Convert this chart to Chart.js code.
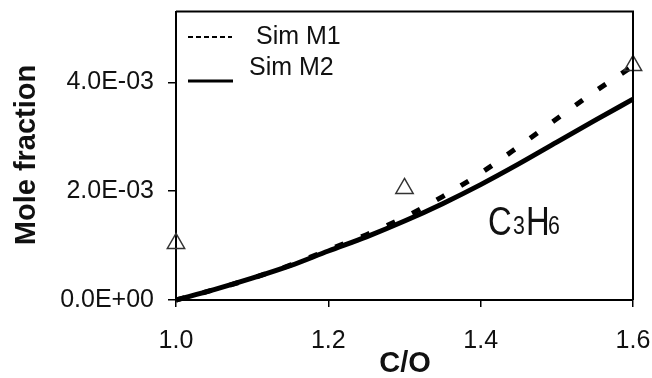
<!DOCTYPE html>
<html>
<head>
<meta charset="utf-8">
<script src="https://cdn.jsdelivr.net/npm/chart.js@4.4.1/dist/chart.umd.min.js"></script>
<style>
  html, body { margin: 0; padding: 0; background: #fff; }
  canvas { display: block; }
</style>
</head>
<body>
<canvas id="chart" width="652" height="378"></canvas>
<script>
const coRatio = [1.0, 1.05, 1.1, 1.15, 1.2, 1.25, 1.3, 1.35, 1.4, 1.45, 1.5, 1.55, 1.6];
const simM1 = [0, 0.19e-3, 0.40e-3, 0.64e-3, 0.92e-3, 1.20e-3, 1.52e-3, 1.90e-3, 2.33e-3, 2.82e-3, 3.33e-3, 3.83e-3, 4.30e-3];
const simM2 = [0, 0.19e-3, 0.40e-3, 0.63e-3, 0.90e-3, 1.16e-3, 1.45e-3, 1.77e-3, 2.12e-3, 2.50e-3, 2.90e-3, 3.30e-3, 3.69e-3];
const expX = [1.0, 1.3, 1.6];
const expY = [1.04e-3, 2.05e-3, 4.31e-3];
const yTicks = [0, 2e-3, 4e-3];
const yTickLabels = ['0.0E+00', '2.0E-03', '4.0E-03'];
const xTicks = [1.0, 1.2, 1.4, 1.6];

const FONT = '"Liberation Sans", Arial, sans-serif';

function pts(xs, ys) {
    return xs.map((x, i) => ({ x: x, y: ys[i] }));
}

// keep chart area fixed: no extra padding for edge tick labels
function noPad(s) {
    s.paddingLeft = 0;
    s.paddingRight = 0;
    s.paddingTop = 0;
    s.paddingBottom = 0;
}

// narrow text, squeezed horizontally
function narrowText(ctx, txt, x, y, size) {
    ctx.save();
    ctx.translate(x, y);
    ctx.scale(0.82, 1);
    ctx.font = size + 'px ' + FONT;
    ctx.fillText(txt, 0, 0);
    ctx.restore();
}

const extras = {
    id: 'extras',
    afterDraw(chart) {
        const ctx = chart.ctx;
        const a = chart.chartArea;
        ctx.save();
        // box top / right
        ctx.strokeStyle = '#000';
        ctx.lineWidth = 2;
        ctx.beginPath();
        ctx.moveTo(a.left, a.top);
        ctx.lineTo(a.right, a.top);
        ctx.lineTo(a.right, a.bottom);
        ctx.stroke();

        // legend
        ctx.lineWidth = 2;
        ctx.setLineDash([5, 3]);
        ctx.beginPath();
        ctx.moveTo(188, 37);
        ctx.lineTo(232, 37);
        ctx.stroke();
        ctx.setLineDash([]);
        ctx.lineWidth = 3;
        ctx.beginPath();
        ctx.moveTo(188, 81);
        ctx.lineTo(233, 81);
        ctx.stroke();
        ctx.fillStyle = '#111';
        ctx.font = '25px ' + FONT;
        ctx.textBaseline = 'middle';
        ctx.textAlign = 'left';
        ctx.fillText('Sim M1', 256, 37);
        ctx.fillText('Sim M2', 249, 68);

        // axis titles
        ctx.font = 'bold 29px ' + FONT;
        ctx.textAlign = 'center';
        ctx.fillText('C/O', 405, 364);
        ctx.save();
        ctx.translate(27, 155);
        ctx.rotate(-Math.PI / 2);
        ctx.fillText('Mole fraction', 0, 0);
        ctx.restore();

        // species label
        ctx.textBaseline = 'alphabetic';
        ctx.textAlign = 'left';
        narrowText(ctx, 'C', 488, 235, 40);
        narrowText(ctx, '3', 513, 234, 26);
        narrowText(ctx, 'H', 526, 235, 40);
        narrowText(ctx, '6', 548, 234, 26);
        ctx.restore();
    }
};

new Chart(document.getElementById('chart'), {
    type: 'scatter',
    data: {
        datasets: [
            {
                label: 'Exp',
                data: pts(expX, expY),
                pointStyle: 'triangle',
                pointRadius: 10,
                pointBackgroundColor: 'rgba(255,255,255,0)',
                pointBorderColor: '#333',
                pointBorderWidth: 1.5,
                showLine: false,
                clip: false
            },
            {
                label: 'Sim M1',
                data: pts(coRatio, simM1),
                showLine: true,
                borderColor: '#000',
                borderWidth: 5,
                borderDash: [9, 19],
                pointRadius: 0,
                cubicInterpolationMode: 'monotone',
                clip: false
            },
            {
                label: 'Sim M2',
                data: pts(coRatio, simM2),
                showLine: true,
                borderColor: '#000',
                borderWidth: 5,
                pointRadius: 0,
                cubicInterpolationMode: 'monotone',
                clip: false
            }
        ]
    },
    options: {
        responsive: false,
        animation: false,
        layout: { padding: { top: 10, right: 19, left: 0, bottom: 0 } },
        plugins: { legend: { display: false }, tooltip: { enabled: false } },
        scales: {
            x: {
                type: 'linear',
                min: 1.0,
                max: 1.6,
                afterFit: s => { s.height = 78; noPad(s); },
                afterBuildTicks: s => { s.ticks = xTicks.map(v => ({ value: v })); },
                grid: { drawOnChartArea: false, color: '#000', lineWidth: 1.5, tickLength: 7 },
                border: { color: '#000', width: 2 },
                ticks: {
                    color: '#111',
                    font: { family: FONT, size: 25 },
                    padding: 19,
                    maxRotation: 0,
                    callback: v => v.toFixed(1)
                }
            },
            y: {
                min: 0,
                max: 5.3e-3,
                afterFit: s => { s.width = 176; noPad(s); },
                afterBuildTicks: s => { s.ticks = yTicks.map(v => ({ value: v })); },
                grid: { drawOnChartArea: false, color: '#000', lineWidth: 1.5, tickLength: 8 },
                border: { color: '#000', width: 2 },
                ticks: {
                    color: '#111',
                    font: { family: FONT, size: 25 },
                    padding: 14,
                    callback: v => yTickLabels[yTicks.indexOf(v)]
                }
            }
        }
    },
    plugins: [extras]
});
</script>
</body>
</html>
